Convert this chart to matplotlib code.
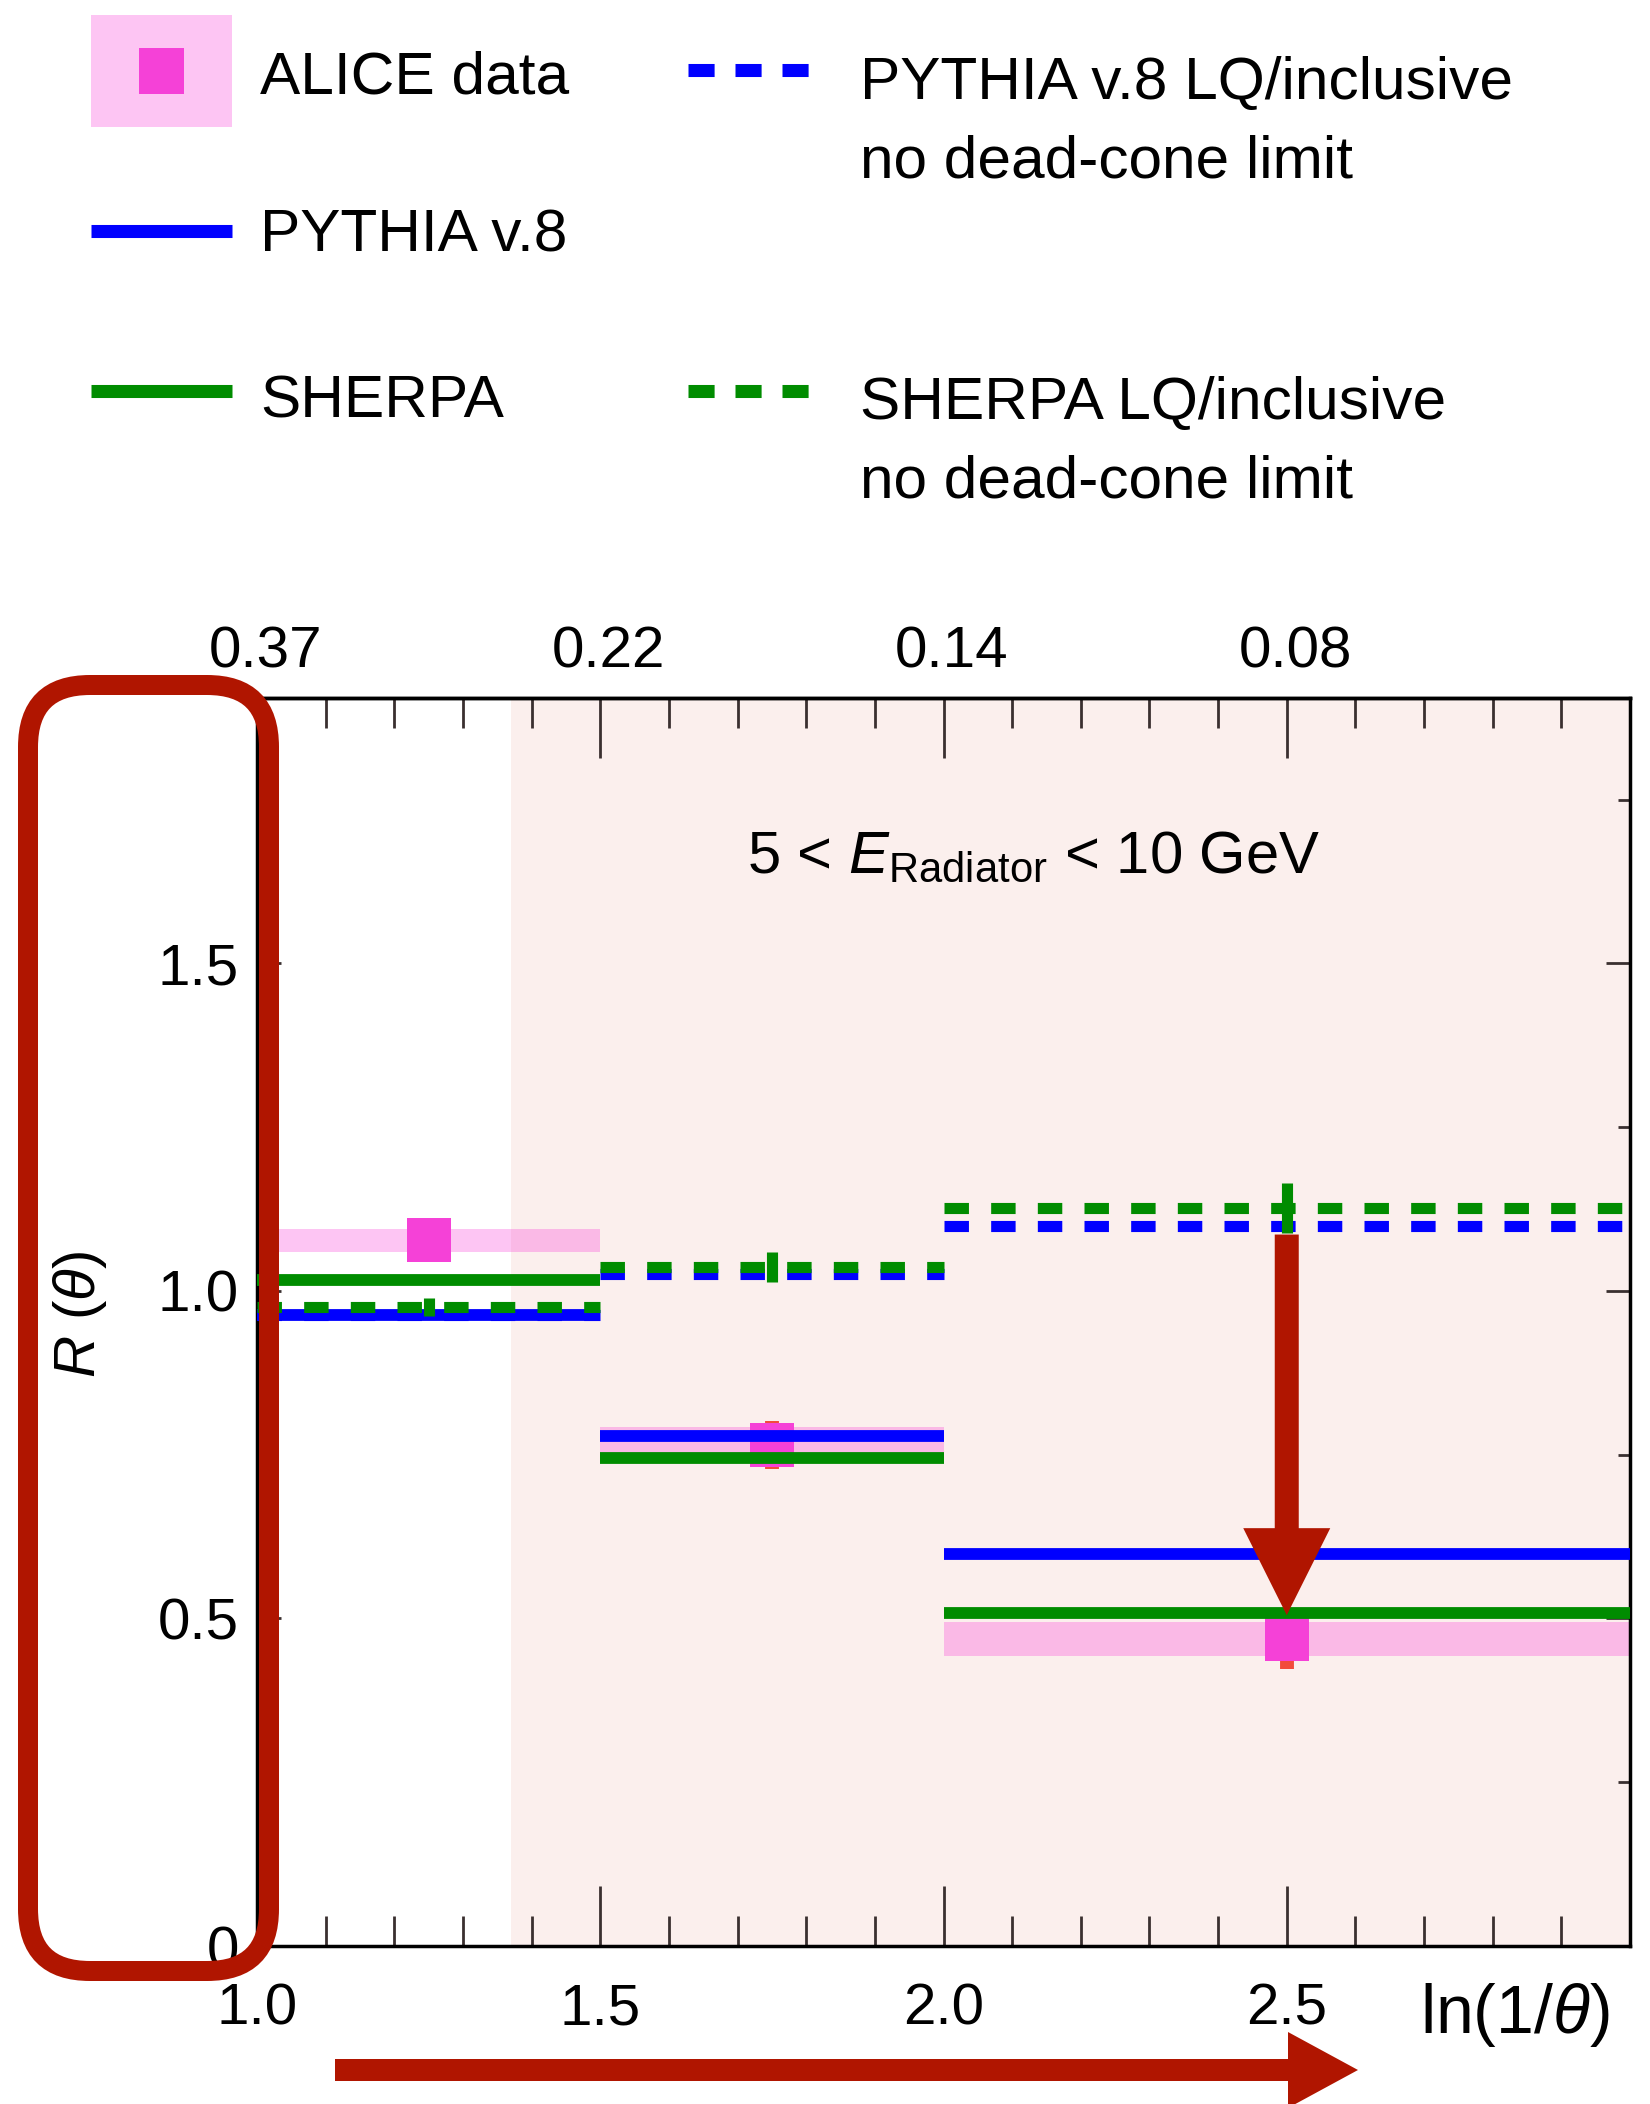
import matplotlib
matplotlib.use("Agg")
import matplotlib.pyplot as plt
import numpy as np
from matplotlib.patches import FancyBboxPatch, FancyArrow, Rectangle
from matplotlib.lines import Line2D
from matplotlib.ticker import MultipleLocator
from matplotlib.transforms import ScaledTranslation

plt.rcParams['font.family'] = ['Liberation Sans', 'DejaVu Sans']
plt.rcParams['mathtext.fontset'] = 'custom'
plt.rcParams['mathtext.rm'] = 'Liberation Sans'
plt.rcParams['mathtext.it'] = 'Liberation Sans:italic'

# ---------------- data ----------------
bin_lo = [1.0, 1.5, 2.0]
bin_hi = [1.5, 2.0, 3.0]
bin_centre = [1.25, 1.75, 2.5]
alice_data = [1.077, 0.765, 0.468]
alice_syst = [0.018, 0.027, 0.026]
alice_stat = [0.025, 0.037, 0.045]
pythia = [0.963, 0.779, 0.598]
sherpa = [1.017, 0.745, 0.508]
pythia_lq = [0.963, 1.026, 1.099]
sherpa_lq = [0.975, 1.037, 1.126]
sherpa_lq_err = [0.014, 0.023, 0.038]
dead_cone_lo, dead_cone_hi = 1.37, 3.0
bottom_ticks = [1.0, 1.5, 2.0, 2.5]
bottom_labels = ['1.0', '1.5', '2.0', '2.5']
top_labels = ['0.37', '0.22', '0.14', '0.08']
y_ticks = [0, 0.5, 1.0, 1.5]
y_labels = ['0', '0.5', '1.0', '1.5']
arrow_x, arrow_from, arrow_to = 2.5, 1.086, 0.505

# ---------------- colours ----------------
BLUE = '#0000FF'
GREEN = '#008C00'
MAGENTA = '#F541D7'
BAND = '#F93FD8'
SHADE = '#FBEFED'
RED = '#B01500'
STATRED = '#F24B3C'

W, H = 1650, 2104
fig = plt.figure(figsize=(W / 100, H / 100), dpi=100)
ax = fig.add_axes([257 / W, (H - 1946) / H, (1630 - 257) / W, (1946 - 698) / H])
ax.set_xlim(1.0, 3.0)
ax.set_ylim(0, 1.905)

# shaded region
ax.axvspan(dead_cone_lo, dead_cone_hi, color=SHADE, zorder=0, lw=0)

widths = [h - l for l, h in zip(bin_lo, bin_hi)]
# systematic band
ax.bar(bin_lo, [2 * s for s in alice_syst], width=widths, align='edge',
       bottom=[d - s for d, s in zip(alice_data, alice_syst)],
       color=BAND, alpha=0.3, lw=0, zorder=1)
# stat error + markers
ax.errorbar(bin_centre, alice_data, yerr=alice_stat, fmt='none', ecolor=STATRED,
            elinewidth=10, capsize=0, zorder=2)
ax.plot(bin_centre, alice_data, 's', color=MAGENTA, ms=31, mew=0, zorder=3)

# model lines
ax.hlines(pythia, bin_lo, bin_hi, colors=BLUE, lw=8.5, zorder=4, capstyle='butt')
ax.hlines(sherpa, bin_lo, bin_hi, colors=GREEN, lw=8.5, zorder=4, capstyle='butt')
ax.hlines(pythia_lq, bin_lo, bin_hi, colors=BLUE, lw=8, linestyles=[(0, (2.2, 2.0))],
          zorder=5, capstyle='butt')
ax.hlines(sherpa_lq, bin_lo, bin_hi, colors=GREEN, lw=8, linestyles=[(0, (2.2, 2.0))],
          zorder=5, capstyle='butt')
ax.errorbar(bin_centre, sherpa_lq, yerr=sherpa_lq_err, fmt='none', ecolor=GREEN,
            elinewidth=8, capsize=0, zorder=6)

# text
ax.text(2.131, 1.638, r'5 < $E_{\mathrm{Radiator}}$ < 10 GeV', ha='center',
        va='baseline', fontsize=43, zorder=7)

# axes styling
for s in ax.spines.values():
    s.set_linewidth(2.5)
    s.set_color('black')
ax.set_xticks(bottom_ticks, bottom_labels)
ax.xaxis.set_minor_locator(MultipleLocator(0.1))
ax.set_yticks(y_ticks, y_labels)
ax.yaxis.set_minor_locator(MultipleLocator(0.25))
ax.tick_params(axis='x', which='major', direction='in', length=43, width=2,
               color='#3a3030', labelsize=42, pad=26, top=False)
ax.tick_params(axis='x', which='minor', direction='in', length=21.6, width=2,
               color='#3a3030', top=False)
ax.tick_params(axis='y', which='major', direction='in', length=17, width=2,
               color='#3a3030', labelsize=42, pad=13, left=True, right=True)
ax.tick_params(axis='y', which='minor', direction='in', length=8.6, width=2,
               color='#3a3030', left=True, right=True)

sec = ax.secondary_xaxis('top')
sec.set_xticks(bottom_ticks, top_labels)
sec.xaxis.set_minor_locator(MultipleLocator(0.1))
sec.tick_params(which='major', direction='in', length=43, width=2, color='#3a3030',
                labelsize=42, pad=13)
sec.tick_params(which='minor', direction='in', length=21.6, width=2, color='#3a3030')
sec.spines['top'].set_linewidth(2.5)
for lab in sec.get_xticklabels():
    lab.set_transform(lab.get_transform() + ScaledTranslation(6 / 72, 0, fig.dpi_scale_trans))

ax.set_xlabel(r'ln(1/$\theta$)', fontsize=49)
ax.xaxis.set_label_coords(0.916, -0.055)
ax.xaxis.label.set_verticalalignment('center')
ax.set_ylabel(r'$R$ ($\theta$)', fontsize=42)
ax.yaxis.set_label_coords(-0.129, 0.506)
ax.yaxis.label.set_verticalalignment('center')

# ---------------- overlay (legend + highlights) ----------------
ov = fig.add_axes([0, 0, 1, 1], zorder=10)
ov.set_xlim(0, W)
ov.set_ylim(H, 0)
ov.axis('off')
ov.patch.set_alpha(0)

band_rgb = tuple(1 - (1 - np.array(matplotlib.colors.to_rgb(BAND))) * 0.3)
ov.add_patch(Rectangle((91, 15), 141, 112, color=band_rgb, lw=0))
ov.add_patch(Rectangle((139, 48), 45, 46, color=MAGENTA, lw=0))
ov.add_line(Line2D([91, 232], [231, 231], color=BLUE, lw=9.4, solid_capstyle='butt'))
ov.add_line(Line2D([91, 232], [391, 391], color=GREEN, lw=9.4, solid_capstyle='butt'))
ov.add_line(Line2D([688, 810], [70, 70], color=BLUE, lw=9.4, dashes=(2.0, 1.6),
                   dash_capstyle='butt'))
ov.add_line(Line2D([688, 810], [391, 391], color=GREEN, lw=9.4, dashes=(2.0, 1.6),
                   dash_capstyle='butt'))
LFS = 43.5
ov.text(260, 94, 'ALICE data', fontsize=LFS, va='baseline')
ov.text(260, 252, 'PYTHIA v.8', fontsize=LFS, va='baseline')
ov.text(260, 417, 'SHERPA', fontsize=LFS, va='baseline')
ov.text(860, 99, 'PYTHIA v.8 LQ/inclusive', fontsize=LFS, va='baseline')
ov.text(860, 178, 'no dead-cone limit', fontsize=LFS, va='baseline')
ov.text(860, 419, 'SHERPA LQ/inclusive', fontsize=LFS, va='baseline')
ov.text(860, 498, 'no dead-cone limit', fontsize=LFS, va='baseline')

# red rounded box around y tick labels
ov.add_patch(FancyBboxPatch((28, 685), 241, 1286,
                            boxstyle='round,pad=0,rounding_size=62',
                            fill=False, ec=RED, lw=14.4))
# bottom arrow
ov.add_patch(FancyArrow(335, 2070, 1358 - 335, 0, width=22, head_width=76,
                        head_length=70, length_includes_head=True, color=RED, lw=0))
# down arrow in the data frame
(px, py0) = ax.transData.transform((arrow_x, arrow_from))
(_, py1) = ax.transData.transform((arrow_x, arrow_to))
ov.add_patch(FancyArrow(px, H - py0, 0, (H - py1) - (H - py0), width=24,
                        head_width=87, head_length=87, length_includes_head=True,
                        color=RED, lw=0))

fig.savefig('out.png', dpi=100)
